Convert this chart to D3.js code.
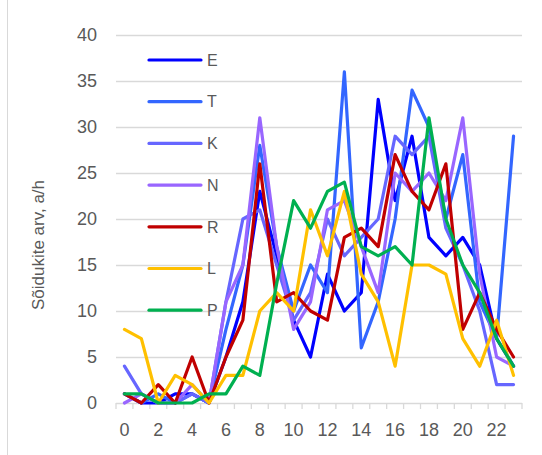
<!DOCTYPE html>
<html><head><meta charset="utf-8">
<script src="https://cdn.jsdelivr.net/npm/d3@7"></script>
<style>body{margin:0;background:#fff}svg{display:block}</style>
</head><body>
<svg id="c" width="542" height="455"></svg>
<script>
const hours = d3.range(0, 24);
const xTickLabels = [0,2,4,6,8,10,12,14,16,18,20,22];
const yTicks = [0,5,10,15,20,25,30,35,40];
const seriesNames = ["E","T","K","N","R","L","P"];
const seriesColors = ["#0000FF","#3366FF","#6666FF","#9966FF","#C00000","#FFC000","#00B050"];
const E = [1,0,0,1,1,0,5,11,23,16,9,5,14,10,12,33,22,29,18,16,18,15,7,4];
const T = [1,0,1,0,1,0,8,15,28,17,10,15,12,36,6,11,20,34,30,20,27,11,7,29];
const K = [4,1,0,0,1,0,11,20,21,15,9,12,20,16,18,20,29,27,29,19,15,10,2,2];
const N = [0,1,0,0,2,0,11,15,31,17,8,11,21,22,17,12,25,23,25,22,31,14,5,4];
const R = [1,0,2,0,5,0,5,9,26,11,12,10,9,18,19,17,27,23,21,26,8,12,8,5];
const L = [8,7,0,3,2,0,3,3,10,12,10,21,16,23,14,11,4,15,15,14,7,4,9,3];
const P = [1,1,0,0,0,1,1,4,3,13,22,19,23,24,17,16,17,15,31,20,15,12,7,4];
const seriesValues = [E,T,K,N,R,L,P];
const yTitle = "Sõidukite arv, a/h";

const svg = d3.select("#c");
const font = "'Liberation Sans', Arial, sans-serif";
const pLeft = 116, pRight = 522, pTop = 35, pBottom = 403;
const x = d3.scaleLinear().domain([-0.5, 23.5]).range([pLeft, pRight]);
const y = d3.scaleLinear().domain([0, 40]).range([pBottom, pTop]);

// chart border (left edge visible)
svg.append("line").attr("x1",7.5).attr("x2",7.5).attr("y1",0).attr("y2",455)
  .attr("stroke","#d9d9d9").attr("stroke-width",1);

// gridlines
svg.append("g").selectAll("line").data(yTicks.filter(d=>d>0)).join("line")
  .attr("x1",pLeft).attr("x2",pRight)
  .attr("y1",d=>Math.round(y(d))+0.5).attr("y2",d=>Math.round(y(d))+0.5)
  .attr("stroke","#d9d9d9").attr("stroke-width",1.3);

// y labels
svg.append("g").selectAll("text").data(yTicks).join("text")
  .attr("x",97).attr("y",d=>y(d)).attr("dy","0.36em")
  .attr("text-anchor","end").attr("font-family",font).attr("font-size",18)
  .attr("fill","#595959").text(d=>d);

// x axis baseline and ticks between categories
svg.append("line").attr("x1",pLeft).attr("x2",pRight)
  .attr("y1",pBottom+0.5).attr("y2",pBottom+0.5).attr("stroke","#d9d9d9").attr("stroke-width",1.3);
svg.append("g").selectAll("line").data(d3.range(0,25)).join("line")
  .attr("x1",d=>x(d-0.5)).attr("x2",d=>x(d-0.5))
  .attr("y1",pBottom).attr("y2",pBottom+6).attr("stroke","#d9d9d9").attr("stroke-width",1.3);

// x labels
svg.append("g").selectAll("text").data(xTickLabels).join("text")
  .attr("x",d=>x(d)).attr("y",430).attr("dy","0.36em")
  .attr("text-anchor","middle").attr("font-family",font).attr("font-size",18)
  .attr("fill","#595959").text(d=>d);

// y title
svg.append("text").attr("transform","translate(38,245) rotate(-90)")
  .attr("text-anchor","middle").attr("dy","0.36em").attr("font-family",font).attr("font-size",17)
  .attr("fill","#595959").text(yTitle);

// lines
const line = d3.line().x((d,i)=>x(hours[i])).y(d=>y(d));
svg.append("g").selectAll("path").data(seriesValues).join("path")
  .attr("d",d=>line(d)).attr("fill","none")
  .attr("stroke",(d,i)=>seriesColors[i]).attr("stroke-width",3.2)
  .attr("stroke-linejoin","round").attr("stroke-linecap","round");

// legend
const lg = svg.append("g").selectAll("g").data(seriesNames).join("g")
  .attr("transform",(d,i)=>`translate(0,${60 + i*41.7})`);
lg.append("line").attr("x1",149).attr("x2",201).attr("y1",0).attr("y2",0)
  .attr("stroke",(d,i)=>seriesColors[i]).attr("stroke-width",3.2).attr("stroke-linecap","round");
lg.append("text").attr("x",207).attr("y",0).attr("dy","0.36em")
  .attr("font-family",font).attr("font-size",16).attr("fill","#595959").text(d=>d);
</script>
</body></html>
